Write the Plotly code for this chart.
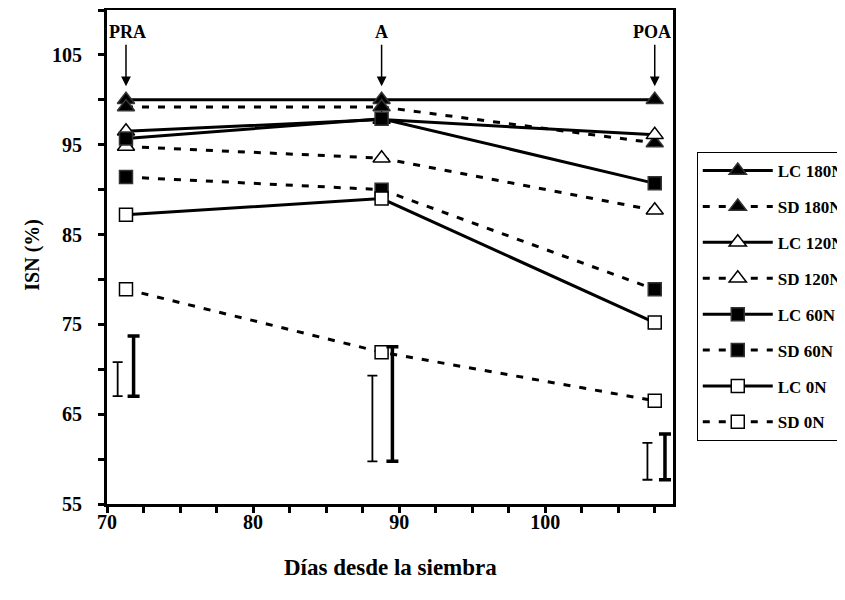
import plotly.graph_objects as go

# ---- data ----
days = [71.3, 88.8, 107.5]
series_names = ["LC 180N", "SD 180N", "LC 120N", "SD 120N", "LC 60N", "SD 60N", "LC 0N", "SD 0N"]
lc_180 = [100.0, 100.0, 100.0]
sd_180 = [99.2, 99.2, 95.2]
lc_120 = [96.5, 97.8, 96.1]
sd_120 = [94.8, 93.5, 87.7]
lc_60 = [95.7, 97.9, 90.7]
sd_60 = [91.4, 90.0, 78.9]
lc_0 = [87.2, 89.0, 75.2]
sd_0 = [78.9, 71.9, 66.5]

# error bars (thin and thick)
eb_thin_x = [70.73, 88.17, 107.0]
eb_thin_lo = [67.0, 59.75, 57.7]
eb_thin_hi = [70.8, 69.3, 61.8]
eb_thick_x = [71.82, 89.54, 108.2]
eb_thick_lo = [67.0, 59.75, 57.7]
eb_thick_hi = [73.7, 72.5, 62.8]

stage_labels = ["PRA", "A", "POA"]

x_ticks = [70, 80, 90, 100]
y_ticks = [55, 65, 75, 85, 95, 105]

FONT = "Liberation Serif"

values = [lc_180, sd_180, lc_120, sd_120, lc_60, sd_60, lc_0, sd_0]
styles = [
    dict(symbol="triangle-up", color="black", dash="solid"),
    dict(symbol="triangle-up", color="black", dash="7px,9px"),
    dict(symbol="triangle-up", color="white", dash="solid"),
    dict(symbol="triangle-up", color="white", dash="7px,9px"),
    dict(symbol="square", color="black", dash="solid"),
    dict(symbol="square", color="black", dash="7px,9px"),
    dict(symbol="square", color="white", dash="solid"),
    dict(symbol="square", color="white", dash="7px,9px"),
]

fig = go.Figure()
for i, (name, vals, st) in enumerate(zip(series_names, values, styles)):
    is_tri = st["symbol"].startswith("triangle")
    fig.add_trace(go.Scatter(
        x=days, y=vals, name=f"<b>{name}</b>", mode="lines+markers",
        legendgroup=name,
        line=dict(color="black", width=3, dash=st["dash"]),
        marker=dict(symbol=st["symbol"], size=15 if is_tri else 13,
                    color=st["color"],
                    line=dict(color="black" if st["color"] == "white" else "#333", width=1.5)),
    ))

# error bars
for xs, lo, hi, w, cw in [(eb_thin_x, eb_thin_lo, eb_thin_hi, 1.8, 5),
                          (eb_thick_x, eb_thick_lo, eb_thick_hi, 3.5, 6)]:
    mid = [(a + b) / 2 for a, b in zip(lo, hi)]
    half = [(b - a) / 2 for a, b in zip(lo, hi)]
    fig.add_trace(go.Scatter(
        x=xs, y=mid, mode="markers", showlegend=False, hoverinfo="skip",
        marker=dict(size=1, opacity=0),
        error_y=dict(type="data", array=half, symmetric=True,
                     color="black", thickness=w, width=cw),
    ))

# stage annotations with arrows
ann = []
for lab, xd in zip(stage_labels, days):
    ann.append(dict(x=xd, y=101.5, xref="x", yref="y", ax=xd, ay=106.3,
                    axref="x", ayref="y", text="", showarrow=True,
                    arrowhead=2, arrowsize=1.3, arrowwidth=1.5, arrowcolor="black"))
ann.append(dict(x=70.0, y=107.6, xref="x", yref="y", text="<b>PRA</b>", showarrow=False,
                xanchor="left", font=dict(family=FONT, size=18, color="black")))
ann.append(dict(x=days[1], y=107.6, xref="x", yref="y", text="<b>A</b>", showarrow=False,
                xanchor="center", font=dict(family=FONT, size=18, color="black")))
ann.append(dict(x=108.75, y=107.6, xref="x", yref="y", text="<b>POA</b>", showarrow=False,
                xanchor="right", font=dict(family=FONT, size=18, color="black")))
# axis titles
ann.append(dict(x=-0.157, y=0.504, xref="paper", yref="paper", text="<b>ISN (%)</b>",
                textangle=-90, showarrow=False, font=dict(family=FONT, size=20, color="black")))
ann.append(dict(x=0.5, y=-0.128, xref="paper", yref="paper", text="<b>Días desde la siembra</b>",
                yanchor="middle", showarrow=False, font=dict(family=FONT, size=23, color="black")))

fig.update_layout(
    width=837, height=592,
    margin=dict(l=99, r=172, t=2, b=96, autoexpand=False),
    paper_bgcolor="white", plot_bgcolor="white",
    font=dict(family=FONT, size=20, color="black"),
    annotations=ann,
    legend=dict(x=1.042, y=0.7126, xanchor="left", yanchor="top",
                bordercolor="black", borderwidth=1, bgcolor="white",
                font=dict(family=FONT, size=17, color="black"),
                itemwidth=70, tracegroupgap=10.8),
)
fig.update_xaxes(range=[70, 108.75], tickvals=x_ticks, ticktext=[f"<b>{v}</b>" for v in x_ticks],
                 ticks="outside", ticklen=6, tickwidth=2.5, tickcolor="black",
                 minor=dict(dtick=2.5, tick0=70, ticks="outside", ticklen=6, tickwidth=2.5, tickcolor="black"),
                 showline=True, linewidth=3, linecolor="black", mirror=True,
                 showgrid=False, zeroline=False, tickfont=dict(family=FONT, size=20),
                 ticklabelstandoff=-8)
fig.update_yaxes(range=[55, 110], tickvals=y_ticks, ticktext=[f"<b>{v}</b>" for v in y_ticks],
                 ticks="outside", ticklen=6, tickwidth=2.5, tickcolor="black",
                 minor=dict(dtick=5, tick0=55, ticks="outside", ticklen=6, tickwidth=2.5, tickcolor="black"),
                 showline=True, linewidth=3, linecolor="black", mirror=True,
                 showgrid=False, zeroline=False, tickfont=dict(family=FONT, size=20),
                 ticklabelstandoff=12)

fig.write_html("out.html")
